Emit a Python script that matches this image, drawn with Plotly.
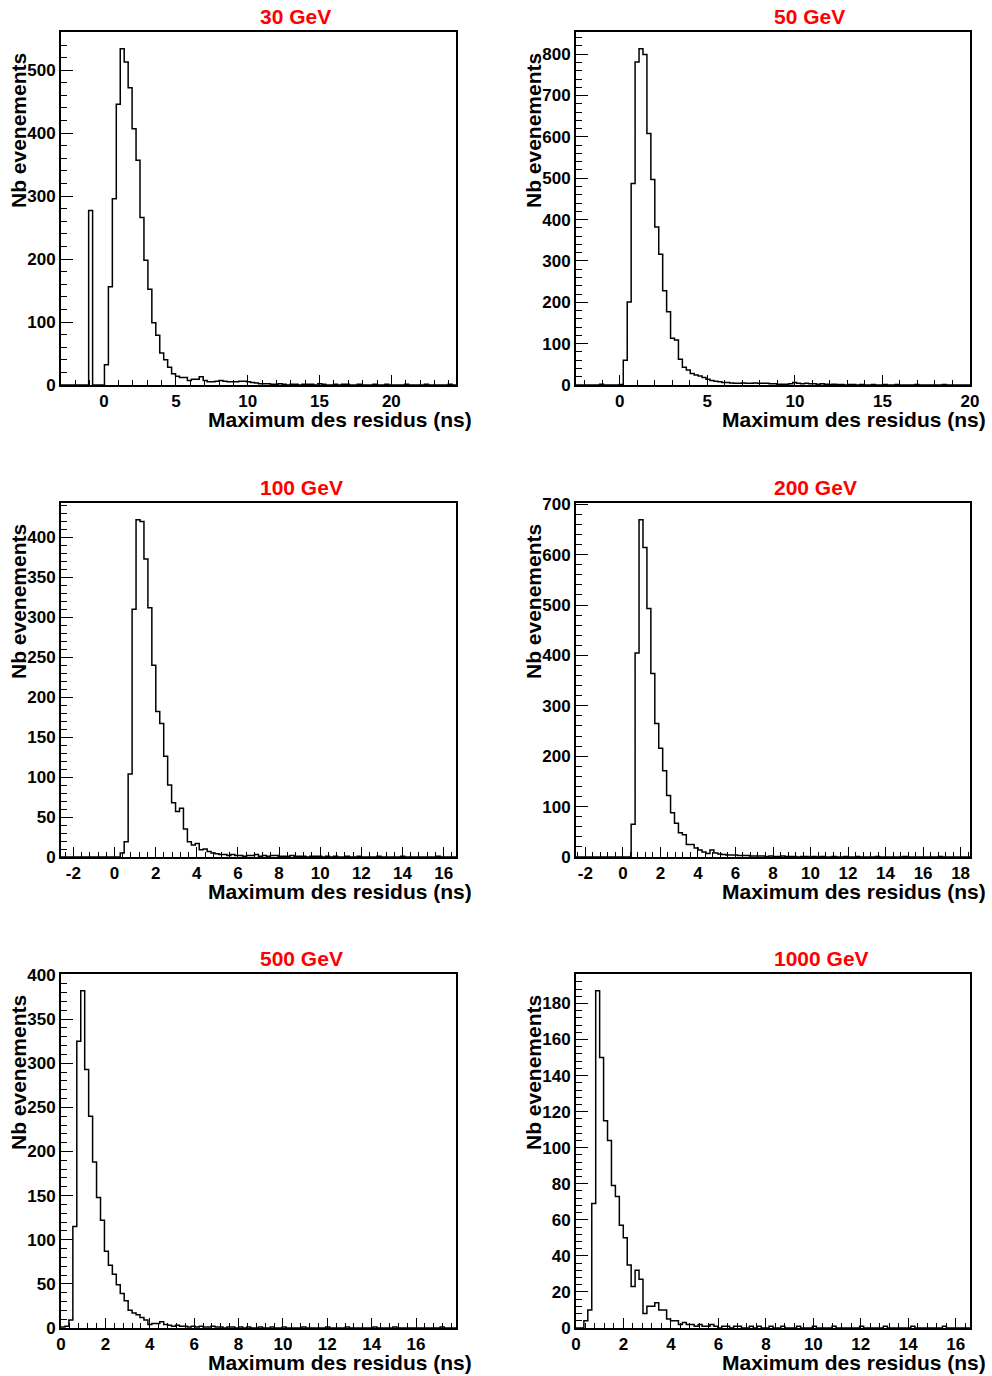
import numpy as np
import plotly.graph_objects as go

W, H = 992, 1376

titles = ["30 GeV", "50 GeV", "100 GeV", "200 GeV", "500 GeV", "1000 GeV"]
x_lo = [-3.0, -2.5, -2.6, -2.5, 0.0, 0.0]
x_hi = [24.5, 20.0, 16.6, 18.5, 17.8, 16.6]
x_title = "Maximum des residus (ns)"
y_title = "Nb evenements"

counts_30 = [
    0, 0, 0, 0, 0, 0, 0, 277, 0, 0,
    0, 32, 156, 296, 446, 534, 513, 472, 407, 357,
    266, 198, 152, 99, 79, 51, 40, 28, 18, 14,
    12, 12, 7, 9, 9, 13, 7, 5, 5, 6,
    7, 6, 5, 5, 5, 6, 6, 5, 4, 3,
    2, 2, 2, 1, 1, 2, 1, 0, 1, 1,
    0, 1, 1, 1, 0, 2, 1, 0, 0, 1,
    0, 1, 1, 0, 0, 1, 0, 0, 0, 1,
    0, 0, 1, 0, 0, 0, 0, 1, 0, 0,
    0, 0, 1, 0, 0, 0, 0, 0, 1, 0,
]
counts_50 = [
    0, 0, 0, 0, 0, 0, 2, 0, 0, 0,
    0, 1, 60, 201, 487, 781, 813, 799, 608, 497,
    382, 316, 228, 177, 113, 109, 62, 43, 36, 28,
    24, 22, 18, 14, 11, 9, 8, 6, 6, 5,
    4, 4, 5, 4, 4, 5, 4, 4, 4, 3,
    3, 2, 2, 2, 3, 6, 4, 3, 4, 3,
    3, 2, 3, 2, 1, 2, 1, 1, 0, 1,
    1, 0, 1, 0, 0, 1, 0, 0, 1, 0,
    0, 1, 0, 0, 0, 0, 1, 0, 0, 0,
    0, 0, 0, 1, 0, 0, 0, 0, 0, 0,
]
counts_100 = [
    0, 0, 0, 0, 0, 0, 0, 0, 0, 0,
    0, 0, 0, 0, 0, 5, 19, 104, 310, 422,
    420, 373, 312, 240, 182, 167, 126, 90, 68, 57,
    61, 35, 19, 15, 17, 9, 10, 7, 5, 4,
    3, 3, 2, 3, 2, 2, 1, 2, 2, 3,
    1, 2, 1, 2, 2, 1, 1, 1, 2, 1,
    1, 1, 0, 1, 1, 1, 0, 1, 0, 1,
    0, 0, 1, 0, 0, 1, 0, 0, 0, 0,
    1, 0, 0, 0, 0, 0, 1, 0, 0, 0,
    0, 0, 0, 0, 0, 1, 0, 0, 0, 0,
]
counts_200 = [
    0, 0, 0, 0, 0, 0, 0, 0, 0, 0,
    0, 0, 0, 0, 65, 405, 669, 614, 493, 364,
    265, 216, 171, 122, 88, 67, 48, 44, 25, 25,
    18, 14, 10, 7, 14, 8, 6, 5, 4, 4,
    4, 3, 3, 3, 2, 2, 2, 2, 1, 2,
    1, 1, 2, 1, 1, 1, 0, 1, 1, 0,
    1, 0, 1, 0, 0, 1, 0, 0, 1, 0,
    0, 1, 0, 0, 0, 0, 1, 0, 0, 0,
    0, 0, 0, 1, 0, 0, 0, 0, 0, 0,
    0, 0, 1, 0, 0, 0, 0, 0, 0, 0,
]
counts_500 = [
    1, 2, 9, 115, 325, 382, 293, 240, 188, 148,
    122, 87, 71, 61, 49, 39, 31, 20, 17, 15,
    12, 9, 4, 5, 5, 7, 4, 3, 2, 3,
    2, 2, 1, 2, 1, 2, 1, 1, 2, 1,
    1, 0, 1, 1, 0, 1, 0, 1, 0, 0,
    1, 0, 0, 1, 0, 0, 1, 0, 0, 0,
    0, 1, 0, 0, 0, 0, 0, 1, 0, 0,
    0, 0, 1, 0, 0, 0, 0, 0, 0, 1,
    0, 0, 0, 0, 1, 0, 0, 0, 0, 0,
    0, 0, 0, 0, 0, 0, 1, 0, 0, 0,
]
counts_1000 = [
    0, 0, 4, 10, 69, 187, 150, 115, 104, 79,
    73, 57, 50, 35, 23, 32, 27, 8, 12, 12,
    14, 10, 10, 5, 4, 4, 2, 3, 2, 2,
    1, 2, 1, 1, 2, 1, 0, 1, 1, 0,
    1, 1, 0, 0, 1, 0, 1, 0, 0, 1,
    0, 0, 1, 0, 0, 0, 1, 0, 0, 0,
    1, 0, 0, 0, 0, 1, 0, 0, 0, 0,
    0, 0, 1, 0, 0, 0, 0, 0, 1, 0,
    0, 0, 0, 0, 0, 1, 0, 0, 0, 0,
    0, 0, 0, 1, 0, 0, 0, 0, 0, 0,
]
all_counts = [counts_30, counts_50, counts_100, counts_200, counts_500, counts_1000]

x_major = [5, 5, 2, 2, 2, 2]
x_minor = [1, 1, 0.4, 0.4, 0.4, 0.4]
y_major = [100, 100, 50, 100, 50, 20]
y_minor = [20, 20, 10, 20, 10, 4]

# frame geometry in pixels (layout only)
col_left = [61, 576]
col_right = [456, 970]
row_top = [32, 503, 974]
row_bot = [385, 857, 1328]

FONT = "Liberation Sans, Arial, Helvetica, sans-serif"


def tick_list(lo, hi, step):
    start = np.ceil(lo / step - 1e-9) * step
    vals = np.arange(start, hi + 1e-9, step)
    out = []
    for v in vals:
        v = round(float(v), 6)
        if abs(v) < 1e-9:
            v = 0.0
        out.append(v)
    return out, [("%g" % v) for v in out]


fig = go.Figure()
annotations = []
for i in range(6):
    r, c = divmod(i, 2)
    counts = np.array(all_counts[i], dtype=float)
    nb = len(counts)
    edges = np.linspace(x_lo[i], x_hi[i], nb + 1)
    xs = list(edges)
    ys = list(counts) + [counts[-1]]
    ax = "" if i == 0 else str(i + 1)
    fig.add_trace(go.Scatter(
        x=xs, y=ys, mode="lines", line=dict(shape="hv", color="black", width=1.5),
        xaxis="x" + ax, yaxis="y" + ax, showlegend=False, hoverinfo="skip"))
    ymax = 1.05 * counts.max()
    xd = [col_left[c] / W, col_right[c] / W]
    yd = [1 - row_bot[r] / H, 1 - row_top[r] / H]
    xtv, xtt = tick_list(x_lo[i], x_hi[i], x_major[i])
    ytv, ytt = tick_list(0, ymax, y_major[i])
    common = dict(showgrid=False, zeroline=False, showline=True, linecolor="black",
                  linewidth=2, mirror=True, ticks="inside", tickcolor="black",
                  tickwidth=1, automargin=False,
                  tickfont=dict(family=FONT, size=17, color="black", weight="bold"))
    fig.update_layout(**{
        "xaxis" + ax: dict(domain=xd, range=[x_lo[i], x_hi[i]], anchor="y" + ax,
                           tickmode="array", tickvals=xtv, ticktext=xtt, ticklen=10,
                           minor=dict(dtick=x_minor[i], tick0=0, ticks="inside", ticklen=5,
                                      tickcolor="black", tickwidth=1, showgrid=False),
                           **common),
        "yaxis" + ax: dict(domain=yd, range=[0, ymax], anchor="x" + ax,
                           tickmode="array", tickvals=ytv, ticktext=ytt, ticklen=12,
                           minor=dict(dtick=y_minor[i], tick0=0, ticks="inside", ticklen=6,
                                      tickcolor="black", tickwidth=1, showgrid=False),
                           **common),
    })
    # panel title
    annotations.append(dict(
        text=titles[i], xref="paper", yref="paper",
        x=((col_left[c] + col_right[c]) / 2 - 1) / W, y=1 - (row_top[r] - 16) / H,
        xanchor="left", yanchor="middle", showarrow=False,
        font=dict(family=FONT, size=21, color="#ff0000", weight="bold")))
    # x axis title
    annotations.append(dict(
        text=x_title, xref="paper", yref="paper",
        x=(col_right[c] + 18) / W, y=1 - (row_bot[r] + 34) / H,
        xanchor="right", yanchor="middle", showarrow=False,
        font=dict(family=FONT, size=21, color="black", weight="bold")))
    # y axis title
    annotations.append(dict(
        text=y_title, xref="paper", yref="paper", textangle=-90,
        x=(col_left[c] - 43) / W, y=1 - (row_top[r] + 99) / H,
        xanchor="center", yanchor="middle", showarrow=False,
        font=dict(family=FONT, size=21, color="black", weight="bold")))

fig.update_layout(
    width=W, height=H, margin=dict(l=0, r=0, t=0, b=0, autoexpand=False),
    paper_bgcolor="white", plot_bgcolor="white",
    annotations=annotations, showlegend=False,
)

fig.write_html("out.html", config={"displayModeBar": False},
               post_script="document.body.style.margin='0';")
